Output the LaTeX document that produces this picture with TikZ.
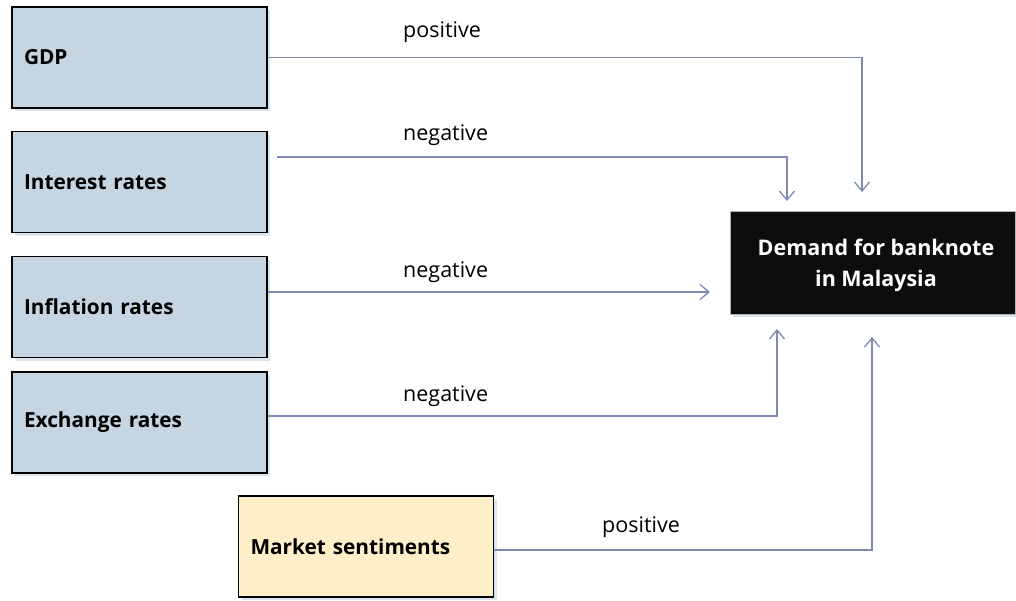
\documentclass[tikz,border=0pt]{standalone}
\usepackage{fontspec}
\setmainfont{Open Sans}
\usetikzlibrary{arrows.meta,shadows}
\definecolor{factorfill}{HTML}{C5D5E2}
\definecolor{marketfill}{HTML}{FFEFC9}
\definecolor{linkcol}{HTML}{7F89B3}
\definecolor{shadowcol}{HTML}{DCE4EC}
\definecolor{demandfill}{HTML}{0D0D0D}
\begin{document}
\begin{tikzpicture}[x=1pt,y=-1pt,
  factor/.style={draw=black, line width=1.2pt, fill=factorfill,
    minimum width=255pt, minimum height=101pt, text width=231pt,
    inner xsep=12pt, align=left,
    font=\bfseries\fontsize{20.8}{24}\selectfont,
    drop shadow={shadow xshift=3pt, shadow yshift=-3pt, fill=shadowcol, opacity=1}},
  market/.style={factor, fill=marketfill},
  outcome/.style={draw=gray!60, line width=1pt, fill=demandfill,
    minimum width=285pt, minimum height=103pt,
    drop shadow={shadow xshift=3pt, shadow yshift=-3pt, fill=shadowcol, opacity=1}},
  outcometext/.style={text=white, align=center, inner sep=0pt,
    font=\bfseries\fontsize{21.5}{31}\selectfont},
  link/.style={draw=linkcol, line width=1.3pt,
    -{Straight Barb[length=9pt,width=15pt,line width=1.3pt]}},
  effect/.style={font=\fontsize{21.5}{24}\selectfont, inner sep=0pt, anchor=base west}
]
\useasboundingbox (0,0) rectangle (1016,600);

% explanatory factors
\node[factor] (gdp) at (139.5,57.5) {GDP};
\node[factor] (ir)  at (139.5,182)  {Interest rates};
\node[factor] (inf) at (139.5,307)  {Inflation rates};
\node[factor] (ex)  at (139.5,422.5){Exchange rates};
\node[market] (mkt) at (366,546.5)  {Market sentiments};

% dependent variable
\node[outcome] (dem) at (872.5,262.5) {};
\node[outcometext] (demtext) at (876,265) {Demand for banknote\\in Malaysia};

% arrow tips and line rows
\coordinate (gdpTip) at (862,192);
\coordinate (irStart) at (277,157);
\coordinate (irTip) at (787,201);
\coordinate (infTip) at (710,292);
\coordinate (exRow) at (0,416);
\coordinate (exTip) at (777,329);
\coordinate (mktRow) at (0,550);
\coordinate (mktTip) at (872,337);

% connectors
\draw[link] (gdp.east) -| (gdpTip);
\draw[link] (irStart) -| (irTip);
\draw[link] (inf.east |- infTip) -- (infTip);
\draw[link] (ex.east |- exRow) -| (exTip);
\draw[link] (mkt.east |- mktRow) -| (mktTip);

% effect signs
\node[effect] (sgdp) at (403,37)  {positive};
\node[effect] (sir)  at (403,140) {negative};
\node[effect] (sinf) at (403,277) {negative};
\node[effect] (sex)  at (403,401) {negative};
\node[effect] (smkt) at (602,532) {positive};
\end{tikzpicture}
\end{document}
